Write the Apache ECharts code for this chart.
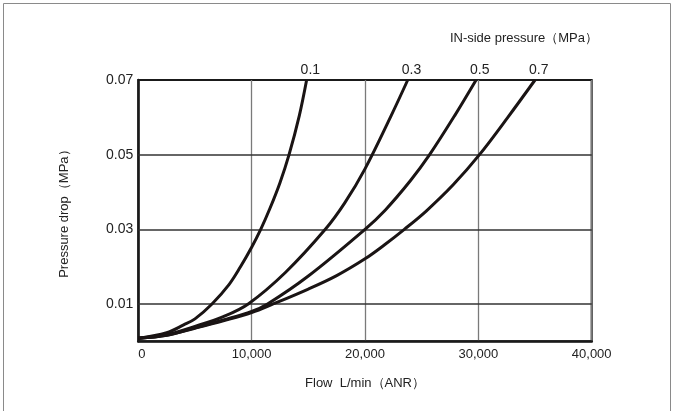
<!DOCTYPE html>
<html>
<head>
<meta charset="utf-8">
<script src="https://cdn.jsdelivr.net/npm/echarts@6/dist/echarts.min.js"></script>
<style>
  html, body { margin: 0; padding: 0; background: #fff; }
  #chart { width: 674px; height: 411px; }
</style>
</head>
<body>
<div id="chart"></div>
<script>
// Pressure drop vs. flow for four inlet pressures (MPa)
const pressureNames = ['0.1', '0.3', '0.5', '0.7'];

const flow01 = [0, 2500, 4000, 5000, 6500, 8000, 9000, 10000, 10800, 11600, 12500, 13300, 14200, 14850];
const drop01 = [0.0008, 0.0023, 0.0044, 0.0060, 0.0100, 0.0152, 0.0199, 0.0252, 0.0300, 0.0355, 0.0425, 0.0500, 0.0604, 0.0700];

const flow03 = [0, 2500, 5000, 7500, 9700, 13000, 16500, 18200, 20000, 22300, 23770];
const drop03 = [0.0008, 0.0018, 0.0040, 0.0066, 0.0100, 0.0185, 0.0300, 0.0370, 0.0462, 0.0604, 0.0700];

const flow05 = [0, 2500, 5000, 7500, 10000, 11400, 15000, 20000, 21800, 24000, 25700, 27900, 29800];
const drop05 = [0.0008, 0.0016, 0.0036, 0.0057, 0.0080, 0.0100, 0.0175, 0.0300, 0.0352, 0.0430, 0.0500, 0.0604, 0.0700];

const flow07 = [0, 2500, 5000, 7500, 10000, 11900, 15000, 17500, 20000, 21700, 23470, 25400, 27800, 30100, 32600, 35000];
const drop07 = [0.0008, 0.0016, 0.0035, 0.0055, 0.0077, 0.0100, 0.0140, 0.0176, 0.0221, 0.0258, 0.0300, 0.0349, 0.0420, 0.0500, 0.0600, 0.0700];

// Axis ranges and labelled ticks
const flowTicks = [0, 10000, 20000, 30000, 40000];
const dropTicks = [0.01, 0.03, 0.05, 0.07];

const curves = [
  [flow01, drop01],
  [flow03, drop03],
  [flow05, drop05],
  [flow07, drop07]
];

const FONT = "'Liberation Sans', Arial, Helvetica, sans-serif";
const TEXT = '#222';

function isDropTick(v) {
  return dropTicks.some(t => Math.abs(t - v) < 1e-9);
}

const series = curves.map(([fx, dy], k) => ({
  name: pressureNames[k],
  type: 'line',
  data: fx.map((f, i) => [f, dy[i]]),
  smooth: 0.35,
  showSymbol: false,
  symbol: 'none',
  lineStyle: { color: '#1a1414', width: 3 },
  z: 5,
  endLabel: {
    show: true,
    formatter: pressureNames[k],
    offset: [-14, -10],
    color: TEXT,
    fontFamily: FONT,
    fontSize: 14
  }
}));

// Horizontal reference lines at the labelled pressure-drop values
series.push({
  type: 'line',
  data: [],
  silent: true,
  z: 2,
  markLine: {
    silent: true,
    symbol: 'none',
    label: { show: false },
    lineStyle: { color: '#333', width: 1.6, type: 'solid' },
    emphasis: { disabled: true },
    data: dropTicks.slice(0, -1).map(v => ({ yAxis: v }))
  }
});

const chart = echarts.init(document.getElementById('chart'), null, { renderer: 'canvas' });

chart.setOption({
  animation: false,
  backgroundColor: '#fff',
  title: {
    text: 'IN-side pressure（MPa）',
    right: 71,
    top: 27,
    textStyle: { color: TEXT, fontFamily: FONT, fontSize: 13, fontWeight: 'normal' }
  },
  graphic: [{
    type: 'rect',
    shape: { x: 3.5, y: 3.5, width: 667, height: 420 },
    style: { fill: 'none', stroke: '#8a8a8a', lineWidth: 1 },
    silent: true
  }],
  grid: {
    left: 138.3,
    right: 82.3,
    top: 80,
    bottom: 69.7,
    show: true,
    borderColor: '#1a1a1a',
    borderWidth: 2
  },
  xAxis: {
    type: 'value',
    min: flowTicks[0],
    max: flowTicks[flowTicks.length - 1],
    interval: 10000,
    name: 'Flow  L/min（ANR）',
    nameLocation: 'middle',
    nameGap: 36,
    nameTextStyle: { color: TEXT, fontFamily: FONT, fontSize: 13 },
    axisLine: { show: true, lineStyle: { color: '#1a1a1a', width: 2.5 } },
    axisTick: { show: false },
    splitLine: { show: true, lineStyle: { color: '#7a7a7a', width: 1.3 } },
    axisLabel: {
      color: TEXT,
      fontFamily: FONT,
      fontSize: 13,
      margin: 7,
      formatter: v => v === 0 ? '0' : v.toLocaleString('en-US'),
      alignMinLabel: 'left'
    }
  },
  yAxis: {
    type: 'value',
    min: 0,
    max: dropTicks[dropTicks.length - 1],
    interval: 0.01,
    name: 'Pressure drop（MPa）',
    nameLocation: 'middle',
    nameGap: 67,
    nameRotate: 90,
    nameTextStyle: { color: TEXT, fontFamily: FONT, fontSize: 13 },
    axisLine: { show: true, lineStyle: { color: '#1a1a1a', width: 2.5 } },
    axisTick: { show: false },
    splitLine: { show: false },
    axisLabel: {
      color: TEXT,
      fontFamily: FONT,
      fontSize: 14,
      margin: 5,
      formatter: v => isDropTick(v) ? v.toFixed(2) : ''
    }
  },
  series: series
});
</script>
</body>
</html>
